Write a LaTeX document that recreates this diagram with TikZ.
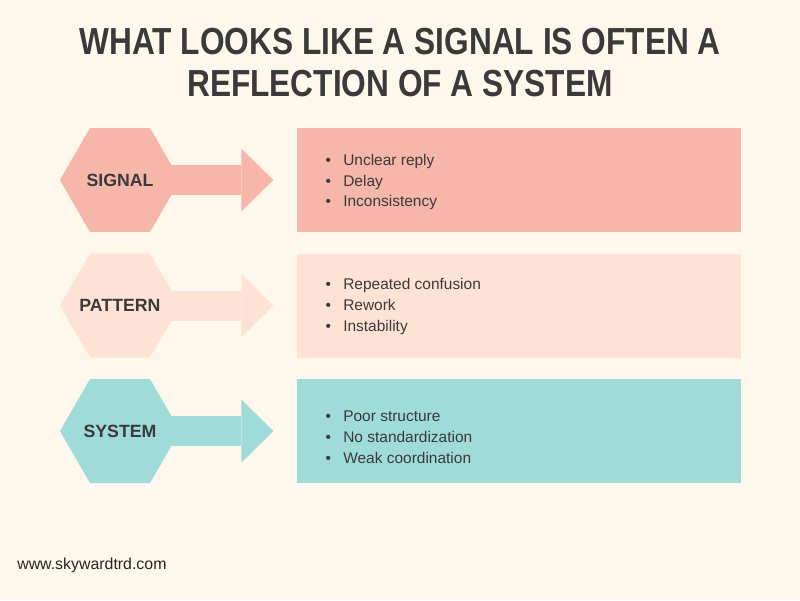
\documentclass[tikz,border=0pt]{standalone}
\usepackage{fontspec}
\setmainfont{Liberation Sans}
\newfontfamily\titlefont[FakeStretch=0.84]{Liberation Sans}
\usepackage{tikz}
\usetikzlibrary{shapes.geometric, arrows.meta, positioning}

\definecolor{bgcream}{HTML}{FEF7EC}
\definecolor{signalpink}{HTML}{F6B6AA}
\definecolor{patternpeach}{HTML}{FEE3D5}
\definecolor{systemteal}{HTML}{9FDBD8}
\definecolor{inkgray}{HTML}{3A3A3A}

\begin{document}
\begin{tikzpicture}[x=0.025cm, y=-0.025cm,
    hexshape/.style={regular polygon, regular polygon sides=6, minimum size=3cm, inner sep=0pt},
    hexlabel/.style={inner sep=0pt, text=inkgray, font=\fontsize{12.6pt}{15pt}\selectfont\bfseries},
    listbox/.style={minimum width=11.1cm, minimum height=2.6cm, inner sep=0pt},
    bullets/.style={align=left, inner sep=0pt, text=inkgray, font=\fontsize{11pt}{14.9pt}\selectfont},
    fatarrow/.style={line width=0.75cm, shorten >=0.575cm,
      -{Triangle[length=0.8cm, width=1.575cm, line width=0pt]}}]
  \fill[bgcream] (0,0) rectangle (800,600);
  \useasboundingbox (0,0) rectangle (800,600);

  \node[text=inkgray, align=center, font=\titlefont\fontsize{26.8pt}{29.2pt}\selectfont\bfseries] (title) at (400,62.5)
    {WHAT LOOKS LIKE A SIGNAL IS OFTEN A\\REFLECTION OF A SYSTEM};

  \node[hexshape, fill=signalpink] (signal) at (120,180) {};
  \node[hexshape, fill=patternpeach, below=0.525cm of signal] (pattern) {};
  \node[hexshape, fill=systemteal, below=0.525cm of pattern] (system) {};

  \node[listbox, fill=signalpink, right=2.9cm of signal] (signalbox) {};
  \node[listbox, fill=patternpeach, right=2.9cm of pattern] (patternbox) {};
  \node[listbox, fill=systemteal, right=2.9cm of system] (systembox) {};

  \draw[fatarrow, signalpink] (signal.center) -- (signalbox.west);
  \draw[fatarrow, patternpeach] (pattern.center) -- (patternbox.west);
  \draw[fatarrow, systemteal] (system.center) -- (systembox.west);

  \node[hexlabel] (signaltext) at (signal) {SIGNAL};
  \node[hexlabel] (patterntext) at (pattern) {PATTERN};
  \node[hexlabel] (systemtext) at (system) {SYSTEM};

  \node[bullets, right=0.725cm of signalbox.west, yshift=-0.05cm] (signallist)
    {\textbullet\hspace{8.7pt}Unclear reply\\ \textbullet\hspace{8.7pt}Delay\\ \textbullet\hspace{8.7pt}Inconsistency};
  \node[bullets, right=0.725cm of patternbox.west, yshift=-0.03cm] (patternlist)
    {\textbullet\hspace{8.7pt}Repeated confusion\\ \textbullet\hspace{8.7pt}Rework\\ \textbullet\hspace{8.7pt}Instability};
  \node[bullets, right=0.725cm of systembox.west, yshift=-0.16cm] (systemlist)
    {\textbullet\hspace{8.7pt}Poor structure\\ \textbullet\hspace{8.7pt}No standardization\\ \textbullet\hspace{8.7pt}Weak coordination};

  \node[anchor=west, inner sep=0pt, text=black!85, font=\fontsize{11.3pt}{13pt}\selectfont] (site) at (17,565) {www.skywardtrd.com};
\end{tikzpicture}
\end{document}
